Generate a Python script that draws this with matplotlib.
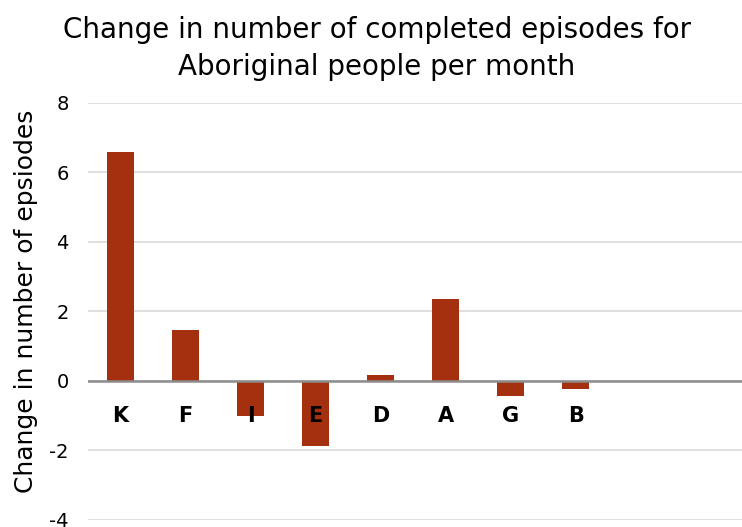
import matplotlib
matplotlib.use("Agg")
import matplotlib.pyplot as plt

categories = ["K", "F", "I", "E", "D", "A", "G", "B"]
values = [6.60, 1.47, -1.00, -1.88, 0.18, 2.37, -0.43, -0.24]
yticks = [-4, -2, 0, 2, 4, 6, 8]

BAR = "#A5300F"
GRID = "#D9D9D9"
AXIS = "#8C8C8C"

plt.rcParams["font.family"] = ["DejaVu Sans"]

fig = plt.figure(figsize=(7.42, 5.27), dpi=100)
ax = fig.add_axes([0.1186, 0.0133, 0.8814, 0.7913])

x = list(range(len(categories)))
ax.bar(x, values, width=0.415, color=BAR, zorder=3)

ax.set_ylim(-4, 8)
ax.set_xlim(-0.5, 9.56)
ax.set_yticks(yticks)
ax.set_yticklabels([str(t) for t in yticks], fontsize=14)
ax.yaxis.grid(True, color=GRID, lw=1.2, zorder=0)
ax.axhline(0, color=AXIS, lw=1.8, zorder=4)
ax.tick_params(axis="y", length=0, pad=14)

# category labels sit just under the zero line
ax.set_xticks([])
for xi, c in zip(x, categories):
    ax.text(xi, -1.0, c, ha="center", va="center", fontsize=15,
            fontweight="bold", color="black", zorder=5)

for s in ax.spines.values():
    s.set_visible(False)

ax.set_ylabel("Change in number of epsiodes", fontsize=18)
ax.yaxis.set_label_coords(-0.076, 0.525)
fig.text(0.508, 0.97, "Change in number of completed episodes for\nAboriginal people per month",
         ha="center", va="top", fontsize=20, linespacing=1.4)

fig.savefig("out.png", dpi=100)
